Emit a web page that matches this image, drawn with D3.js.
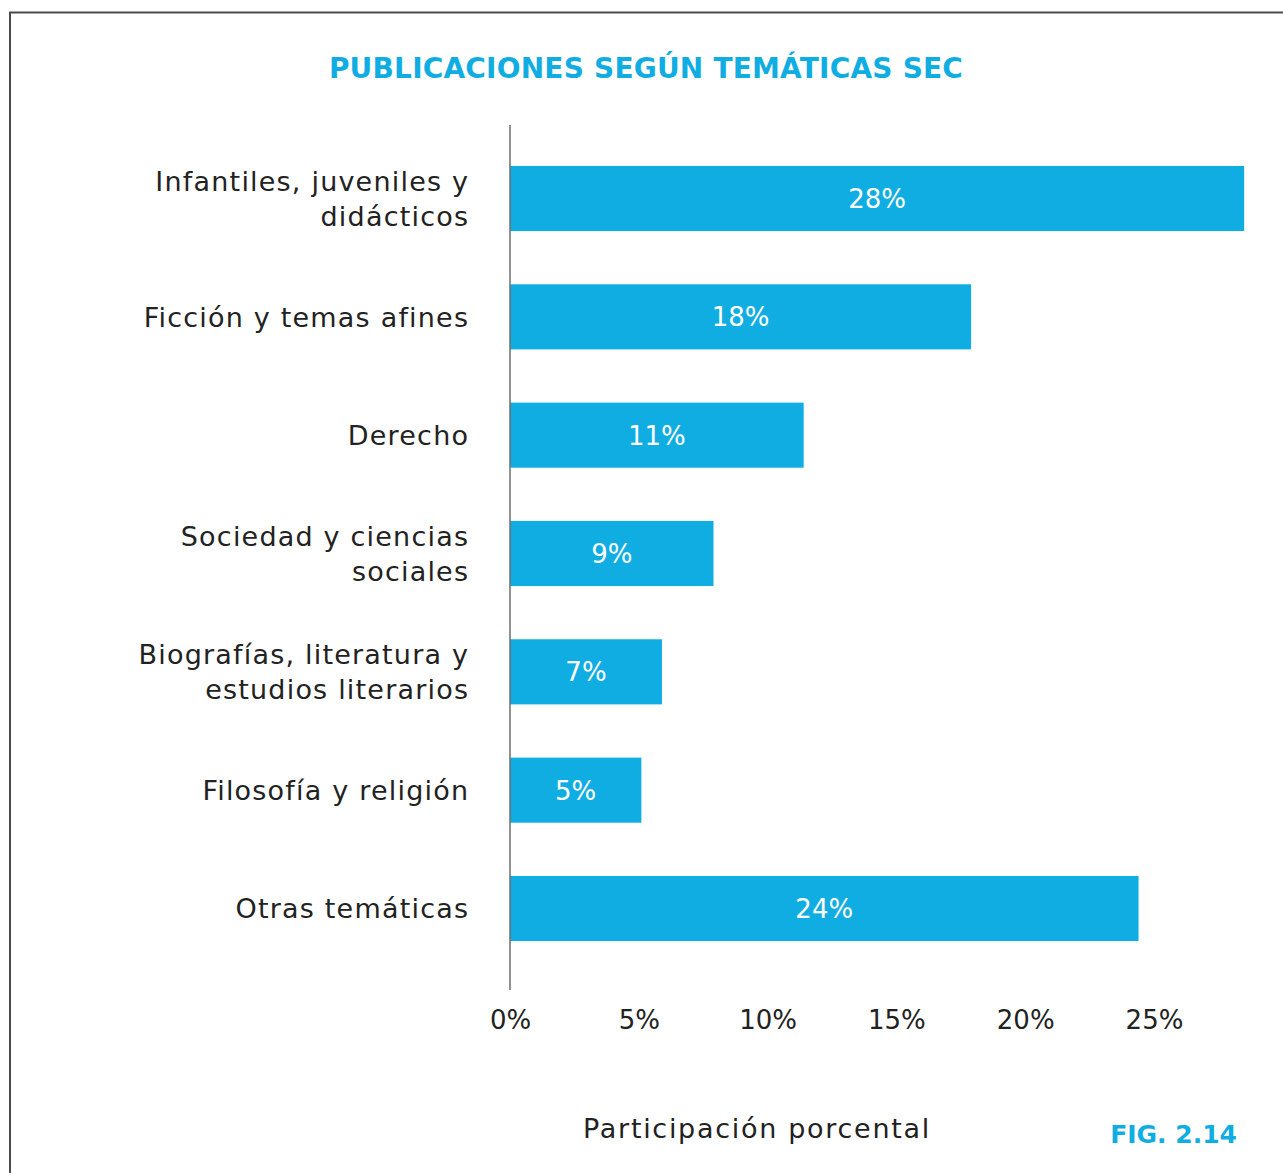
<!DOCTYPE html>
<html>
<head>
<meta charset="utf-8">
<script src="https://cdn.jsdelivr.net/npm/d3@7"></script>
<style>
  body { margin: 0; background: #fff; }
  svg { display: block; }
  text { font-family: "DejaVu Sans", sans-serif; }
</style>
</head>
<body>
<div id="chartWrapper"></div>
<script>
var categories = [
    "Infantiles, juveniles y didácticos",
    "Ficción y temas afines",
    "Derecho",
    "Sociedad y ciencias sociales",
    "Biografías, literatura y estudios literarios",
    "Filosofía y religión",
    "Otras temáticas"
];
var categoryLines = [
    ["Infantiles, juveniles y", "didácticos"],
    ["Ficción y temas afines"],
    ["Derecho"],
    ["Sociedad y ciencias", "sociales"],
    ["Biografías, literatura y", "estudios literarios"],
    ["Filosofía y religión"],
    ["Otras temáticas"]
];
// bar lengths as drawn in the figure (%)
var values = [28.5, 17.9, 11.4, 7.9, 5.9, 5.1, 24.4];
var valueLabels = ["28%", "18%", "11%", "9%", "7%", "5%", "24%"];
var tickValues = [0, 5, 10, 15, 20, 25];
var tickLabels = ["0%", "5%", "10%", "15%", "20%", "25%"];

var width = 1283;
var height = 1173;
var blue = "#10ade3";
var spacing = 1.2;

var svg = d3.select("#chartWrapper").append("svg")
    .attr("width", width)
    .attr("height", height);

// frame
svg.append("rect")
    .attr("x", 10)
    .attr("y", 12.5)
    .attr("width", 1400)
    .attr("height", 1400)
    .attr("fill", "none")
    .attr("stroke", "#4a4a4a")
    .attr("stroke-width", 2);

svg.append("text")
    .attr("x", 646)
    .attr("y", 78)
    .attr("text-anchor", "middle")
    .style("font-size", "28px")
    .style("font-weight", "bold")
    .style("letter-spacing", "0.2px")
    .attr("fill", blue)
    .text("PUBLICACIONES SEGÚN TEMÁTICAS SEC");

var x = d3.scaleLinear()
    .domain([0, 25])
    .range([510, 1154]);

var y = d3.scaleBand()
    .domain(categories)
    .range([121, 986])
    .paddingInner(0.45)
    .paddingOuter(0.38);

var data = categories.map(function(c, i) {
    return { key: c, lines: categoryLines[i], value: values[i], label: valueLabels[i] };
});

svg.selectAll("rect.bar")
    .data(data)
    .enter()
    .append("rect")
    .attr("class", "bar")
    .attr("x", x(0))
    .attr("y", function(d) { return y(d.key); })
    .attr("width", function(d) { return x(d.value) - x(0); })
    .attr("height", y.bandwidth())
    .attr("fill", blue);

svg.selectAll("text.val")
    .data(data)
    .enter()
    .append("text")
    .attr("class", "val")
    .attr("x", function(d) { return (x(0) + x(d.value)) / 2; })
    .attr("y", function(d) { return y(d.key) + y.bandwidth() / 2; })
    .attr("dy", "0.36em")
    .attr("text-anchor", "middle")
    .attr("fill", "#fff")
    .style("font-size", "26px")
    .text(function(d) { return d.label; });

// category labels
var lineH = 35;
var cat = svg.selectAll("text.cat")
    .data(data)
    .enter()
    .append("text")
    .attr("class", "cat")
    .attr("text-anchor", "end")
    .attr("fill", "#222")
    .style("font-size", "27px")
    .style("letter-spacing", spacing + "px")
    .attr("transform", function(d) {
        var cy = y(d.key) + y.bandwidth() / 2 - (d.lines.length - 1) * lineH / 2;
        return "translate(" + (468 + spacing) + "," + cy + ")";
    });
cat.selectAll("tspan")
    .data(function(d) { return d.lines; })
    .enter()
    .append("tspan")
    .attr("x", 0)
    .attr("y", function(d, i) { return i * lineH; })
    .attr("dy", "0.36em")
    .text(function(d) { return d; });

// y axis line
svg.append("line")
    .attr("x1", x(0))
    .attr("x2", x(0))
    .attr("y1", 125)
    .attr("y2", 990)
    .attr("stroke", "#6e6e6e")
    .attr("stroke-width", 1.5);

var xAxis = svg.append("g")
    .attr("transform", "translate(0,1008)")
    .call(d3.axisBottom(x)
        .tickValues(tickValues)
        .tickFormat(function(d, i) { return tickLabels[i]; })
        .tickSize(0));
xAxis.select(".domain").remove();
xAxis.selectAll("text")
    .style("font-family", "DejaVu Sans, sans-serif")
    .style("font-size", "26px")
    .attr("fill", "#222");

svg.append("text")
    .attr("x", 757)
    .attr("y", 1138)
    .attr("text-anchor", "middle")
    .attr("fill", "#222")
    .style("font-size", "27px")
    .style("letter-spacing", "1.7px")
    .text("Participación porcental");

svg.append("text")
    .attr("x", 1237)
    .attr("y", 1143)
    .attr("text-anchor", "end")
    .attr("fill", blue)
    .style("font-size", "25px")
    .style("font-weight", "bold")
    .text("FIG. 2.14");
</script>
</body>
</html>
